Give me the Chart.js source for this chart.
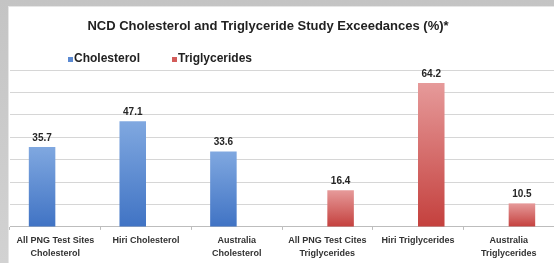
<!DOCTYPE html>
<html lang="en">
<head>
    <meta charset="UTF-8">
    <title>NCD Cholesterol and Triglyceride Study Exceedances</title>
    <script src="https://cdn.jsdelivr.net/npm/chart.js"></script>
    <style>
        html, body { margin: 0; padding: 0; }
        body {
            width: 554px; height: 263px; overflow: hidden;
            background: linear-gradient(to bottom, #c4c4c4, #d2d2d2);
            position: relative;
        }
        #frame {
            position: absolute; left: 8px; top: 6px; width: 546px; height: 257px;
            background: #fff;
            border-left: 1px solid #e6e6e6; border-top: 1px solid #e6e6e6;
            box-sizing: border-box;
        }
        #wrap { position: absolute; left: 0; top: 1px; width: 545px; height: 256px; }
    </style>
</head>
<body>
<div id="frame"><div id="wrap"><canvas id="myChart"></canvas></div></div>

<script>
    // chart values
    const titleText = 'NCD Cholesterol and Triglyceride Study Exceedances (%)*';
    const categories = [
        ['All PNG Test Sites', 'Cholesterol'],
        ['Hiri Cholesterol'],
        ['Australia', 'Cholesterol'],
        ['All PNG Test Cites', 'Triglycerides'],
        ['Hiri Triglycerides'],
        ['Australia', 'Triglycerides']
    ];
    const cholesterol = [35.7, 47.1, 33.6, null, null, null];
    const triglycerides = [null, null, null, 16.4, 64.2, 10.5];
    const yMax = 70;
    const yStep = 10;

    const blueTop = '#80a8e0', blueBottom = '#4073c4';
    const redTop = '#e69a9a', redBottom = '#c4403d';

    // vertical gradient per bar, light at the top
    function barGradient(top, bottom) {
        return (c) => {
            const chart = c.chart;
            if (!chart.chartArea || c.raw == null) return bottom;
            const y = chart.scales.y;
            const g = chart.ctx.createLinearGradient(0, y.getPixelForValue(c.raw), 0, y.getPixelForValue(0));
            g.addColorStop(0, top);
            g.addColorStop(1, bottom);
            return g;
        };
    }

    // title + legend drawn where the original has them
    const headerPlugin = {
        id: 'header',
        afterDraw(chart) {
            const ctx = chart.ctx;
            ctx.save();
            ctx.fillStyle = '#222';
            ctx.font = 'bold 13px "Liberation Sans", Arial, sans-serif';
            ctx.textAlign = 'center';
            ctx.textBaseline = 'middle';
            ctx.fillText(titleText, 259, 18);

            ctx.font = 'bold 12px "Liberation Sans", Arial, sans-serif';
            ctx.textAlign = 'left';
            chart.data.datasets.forEach((ds, i) => {
                const x = [59, 163][i];
                ctx.fillStyle = ds.legendColor;
                ctx.fillRect(x, 49, 5, 5);
                ctx.fillStyle = '#222';
                ctx.fillText(ds.label, x + 6, 51);
            });
            ctx.restore();
        }
    };

    // value labels above bars
    const valueLabels = {
        id: 'valueLabels',
        afterDatasetsDraw(chart) {
            const ctx = chart.ctx;
            ctx.save();
            ctx.font = 'bold 10px "Liberation Sans", Arial, sans-serif';
            ctx.fillStyle = '#262626';
            ctx.textAlign = 'center';
            ctx.textBaseline = 'bottom';
            chart.data.datasets.forEach((ds, i) => {
                chart.getDatasetMeta(i).data.forEach((bar, j) => {
                    const v = ds.data[j];
                    if (v == null) return;
                    ctx.fillText(v.toFixed(1), bar.x, bar.y - 4);
                });
            });
            ctx.restore();
        }
    };

    const ctx = document.getElementById('myChart').getContext('2d');
    new Chart(ctx, {
        type: 'bar',
        data: {
            labels: categories,
            datasets: [
                {
                    label: 'Cholesterol',
                    data: cholesterol,
                    backgroundColor: barGradient(blueTop, blueBottom),
                    legendColor: '#5b8ad2'
                },
                {
                    label: 'Triglycerides',
                    data: triglycerides,
                    backgroundColor: barGradient(redTop, redBottom),
                    legendColor: '#d35c5a'
                }
            ]
        },
        options: {
            responsive: true,
            maintainAspectRatio: false,
            animation: false,
            layout: { padding: { top: 62, left: 1, right: 0, bottom: 0 } },
            datasets: {
                bar: { categoryPercentage: 0.585, barPercentage: 1 }
            },
            plugins: {
                legend: { display: false },
                title: { display: false },
                tooltip: { enabled: false }
            },
            scales: {
                x: {
                    grid: { drawOnChartArea: false, drawTicks: true, tickLength: 3, color: '#bdbdbd' },
                    border: { display: true, color: '#bdbdbd' },
                    ticks: {
                        color: '#333',
                        padding: 4,
                        maxRotation: 0,
                        autoSkip: false,
                        font: { family: '"Liberation Sans", Arial, sans-serif', size: 9, weight: 'bold', lineHeight: 1.45 }
                    }
                },
                y: {
                    min: 0,
                    max: yMax,
                    ticks: { display: false, stepSize: yStep },
                    grid: { color: '#d6d6d6', drawTicks: false },
                    border: { display: false }
                }
            }
        },
        plugins: [headerPlugin, valueLabels]
    });
</script>
</body>
</html>
